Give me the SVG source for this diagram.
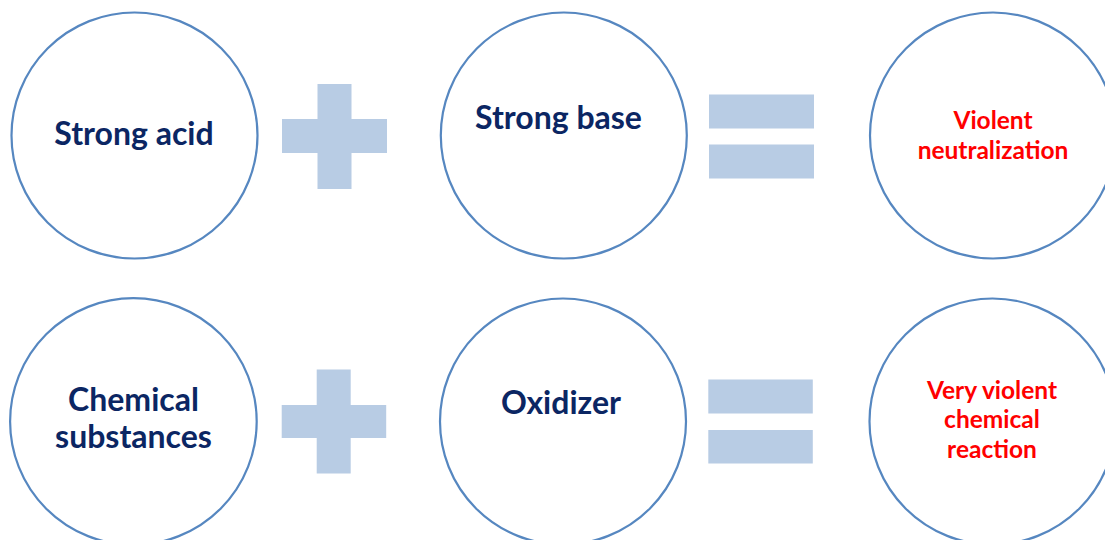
<svg xmlns="http://www.w3.org/2000/svg" width="1105" height="540" viewBox="0 0 1105 540">
<style>
.c{fill:#ffffff;stroke:#5687c0;stroke-width:2.2}
.s{fill:#b8cce4}
.t{font-family:Lato,"Open Sans","Liberation Sans",sans-serif;font-weight:bold;font-size:32px;fill:#0b2663;text-anchor:middle}
.r{font-family:Lato,"Open Sans","Liberation Sans",sans-serif;font-weight:bold;font-size:24.5px;fill:#ff0000;text-anchor:middle}
</style>
<rect width="1105" height="540" fill="#ffffff"/>
<g id="strong-acid"><circle class="c" cx="134.5" cy="135.5" r="123"/><text class="t" x="134" y="145">Strong acid</text></g>
<g id="plus-1"><rect class="s" x="317.5" y="84" width="34" height="105"/><rect class="s" x="282" y="119" width="105" height="34"/></g>
<g id="strong-base"><circle class="c" cx="563.8" cy="135.5" r="123"/><text class="t" x="558.5" y="128.5">Strong base</text></g>
<g id="equals-1"><rect class="s" x="709" y="94.5" width="105" height="34"/><rect class="s" x="709" y="144.5" width="105" height="34"/></g>
<g id="violent-neutralization"><circle class="c" cx="993" cy="135.5" r="123"/><text class="r" x="993" y="128.5">Violent</text><text class="r" x="993" y="158.5">neutralization</text></g>
<g id="chemical-substances"><circle class="c" cx="133.4" cy="421.5" r="123.3"/><text class="t" x="133.5" y="410.5">Chemical</text><text class="t" x="133.5" y="447.5">substances</text></g>
<g id="plus-2"><rect class="s" x="316.7" y="369.5" width="34" height="104"/><rect class="s" x="281.7" y="405" width="104.5" height="33"/></g>
<g id="oxidizer"><circle class="c" cx="563" cy="421.5" r="123"/><text class="t" x="561" y="413.5">Oxidizer</text></g>
<g id="equals-2"><rect class="s" x="708.3" y="379.5" width="104.5" height="34"/><rect class="s" x="708.3" y="430" width="104.5" height="33.5"/></g>
<g id="very-violent-reaction"><circle class="c" cx="992.5" cy="421.5" r="123"/><text class="r" x="992" y="398.5">Very violent</text><text class="r" x="992" y="428">chemical</text><text class="r" x="992" y="458">reaction</text></g>
<g id="connectors"></g>
</svg>
